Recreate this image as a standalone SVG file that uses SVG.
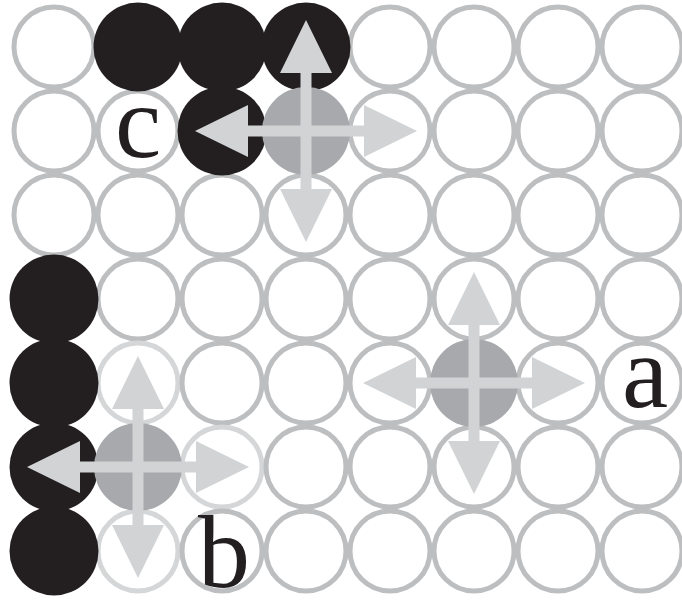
<svg xmlns="http://www.w3.org/2000/svg" xmlns:xlink="http://www.w3.org/1999/xlink" width="682" height="602" viewBox="0 0 682 602">
<style>
.g{fill:none;stroke:#bcbec0;stroke-width:5}
.gl{fill:none;stroke:#d4d6d7;stroke-width:5}
.k{fill:#231f20}
.m{fill:#a7a9ac}
.ar{fill:#d1d3d4}
.lb{font-family:"Liberation Serif","Times New Roman",serif;font-size:104px;fill:#231f20;text-anchor:middle}
</style>
<defs>
<path id="arm" d="M-5.5 0V-58H-26L0-111L26-58H5.5V0Z"/>
<g id="cross" class="ar">
<use xlink:href="#arm"/>
<use xlink:href="#arm" transform="rotate(90)"/>
<use xlink:href="#arm" transform="rotate(180)"/>
<use xlink:href="#arm" transform="rotate(270)"/>
</g>
</defs>
<rect width="682" height="602" fill="#fff"/>
<g id="grid">
<g id="row0"><circle class="g" cx="54" cy="47" r="40"/><circle class="g" cx="138" cy="47" r="40"/><circle class="g" cx="222" cy="47" r="40"/><circle class="g" cx="306" cy="47" r="40"/><circle class="g" cx="390" cy="47" r="40"/><circle class="g" cx="474" cy="47" r="40"/><circle class="g" cx="558" cy="47" r="40"/><circle class="g" cx="642" cy="47" r="40"/></g>
<g id="row1"><circle class="g" cx="54" cy="131" r="40"/><circle class="g" cx="138" cy="131" r="40"/><circle class="g" cx="222" cy="131" r="40"/><circle class="g" cx="306" cy="131" r="40"/><circle class="g" cx="390" cy="131" r="40"/><circle class="g" cx="474" cy="131" r="40"/><circle class="g" cx="558" cy="131" r="40"/><circle class="g" cx="642" cy="131" r="40"/></g>
<g id="row2"><circle class="g" cx="54" cy="215" r="40"/><circle class="g" cx="138" cy="215" r="40"/><circle class="g" cx="222" cy="215" r="40"/><circle class="g" cx="306" cy="215" r="40"/><circle class="g" cx="390" cy="215" r="40"/><circle class="g" cx="474" cy="215" r="40"/><circle class="g" cx="558" cy="215" r="40"/><circle class="g" cx="642" cy="215" r="40"/></g>
<g id="row3"><circle class="g" cx="54" cy="299" r="40"/><circle class="g" cx="138" cy="299" r="40"/><circle class="g" cx="222" cy="299" r="40"/><circle class="g" cx="306" cy="299" r="40"/><circle class="g" cx="390" cy="299" r="40"/><circle class="g" cx="474" cy="299" r="40"/><circle class="g" cx="558" cy="299" r="40"/><circle class="g" cx="642" cy="299" r="40"/></g>
<g id="row4"><circle class="g" cx="54" cy="383" r="40"/><circle class="gl" cx="138" cy="383" r="40"/><circle class="g" cx="222" cy="383" r="40"/><circle class="g" cx="306" cy="383" r="40"/><circle class="g" cx="390" cy="383" r="40"/><circle class="g" cx="474" cy="383" r="40"/><circle class="g" cx="558" cy="383" r="40"/><circle class="g" cx="642" cy="383" r="40"/></g>
<g id="row5"><circle class="g" cx="54" cy="467" r="40"/><circle class="g" cx="138" cy="467" r="40"/><circle class="gl" cx="222" cy="467" r="40"/><circle class="g" cx="306" cy="467" r="40"/><circle class="g" cx="390" cy="467" r="40"/><circle class="g" cx="474" cy="467" r="40"/><circle class="g" cx="558" cy="467" r="40"/><circle class="g" cx="642" cy="467" r="40"/></g>
<g id="row6"><circle class="g" cx="54" cy="551" r="40"/><circle class="gl" cx="138" cy="551" r="40"/><circle class="g" cx="222" cy="551" r="40"/><circle class="g" cx="306" cy="551" r="40"/><circle class="g" cx="390" cy="551" r="40"/><circle class="g" cx="474" cy="551" r="40"/><circle class="g" cx="558" cy="551" r="40"/><circle class="g" cx="642" cy="551" r="40"/></g>
</g>
<g id="stones">
<circle class="k" cx="138" cy="47" r="44.5"/>
<circle class="k" cx="222" cy="47" r="44.5"/>
<circle class="k" cx="306" cy="47" r="44.5"/>
<circle class="k" cx="222" cy="131" r="44.5"/>
<circle class="k" cx="54" cy="299" r="44.5"/>
<circle class="k" cx="54" cy="383" r="44.5"/>
<circle class="k" cx="54" cy="467" r="44.5"/>
<circle class="k" cx="54" cy="551" r="44.5"/>
</g>
<g id="node-a"><circle class="m" cx="474" cy="383" r="44"/></g>
<g id="node-b"><circle class="m" cx="138" cy="467" r="44"/></g>
<g id="node-c"><circle class="m" cx="306" cy="131" r="44"/></g>
<g id="connectors">
<use xlink:href="#cross" x="474" y="383"/>
<use xlink:href="#cross" x="138" y="467"/>
<use xlink:href="#cross" x="306" y="131"/>
</g>
<g id="labels">
<text class="lb" x="645" y="407">a</text>
<text class="lb" x="224" y="587">b</text>
<text class="lb" x="138" y="157">c</text>
</g>
</svg>
